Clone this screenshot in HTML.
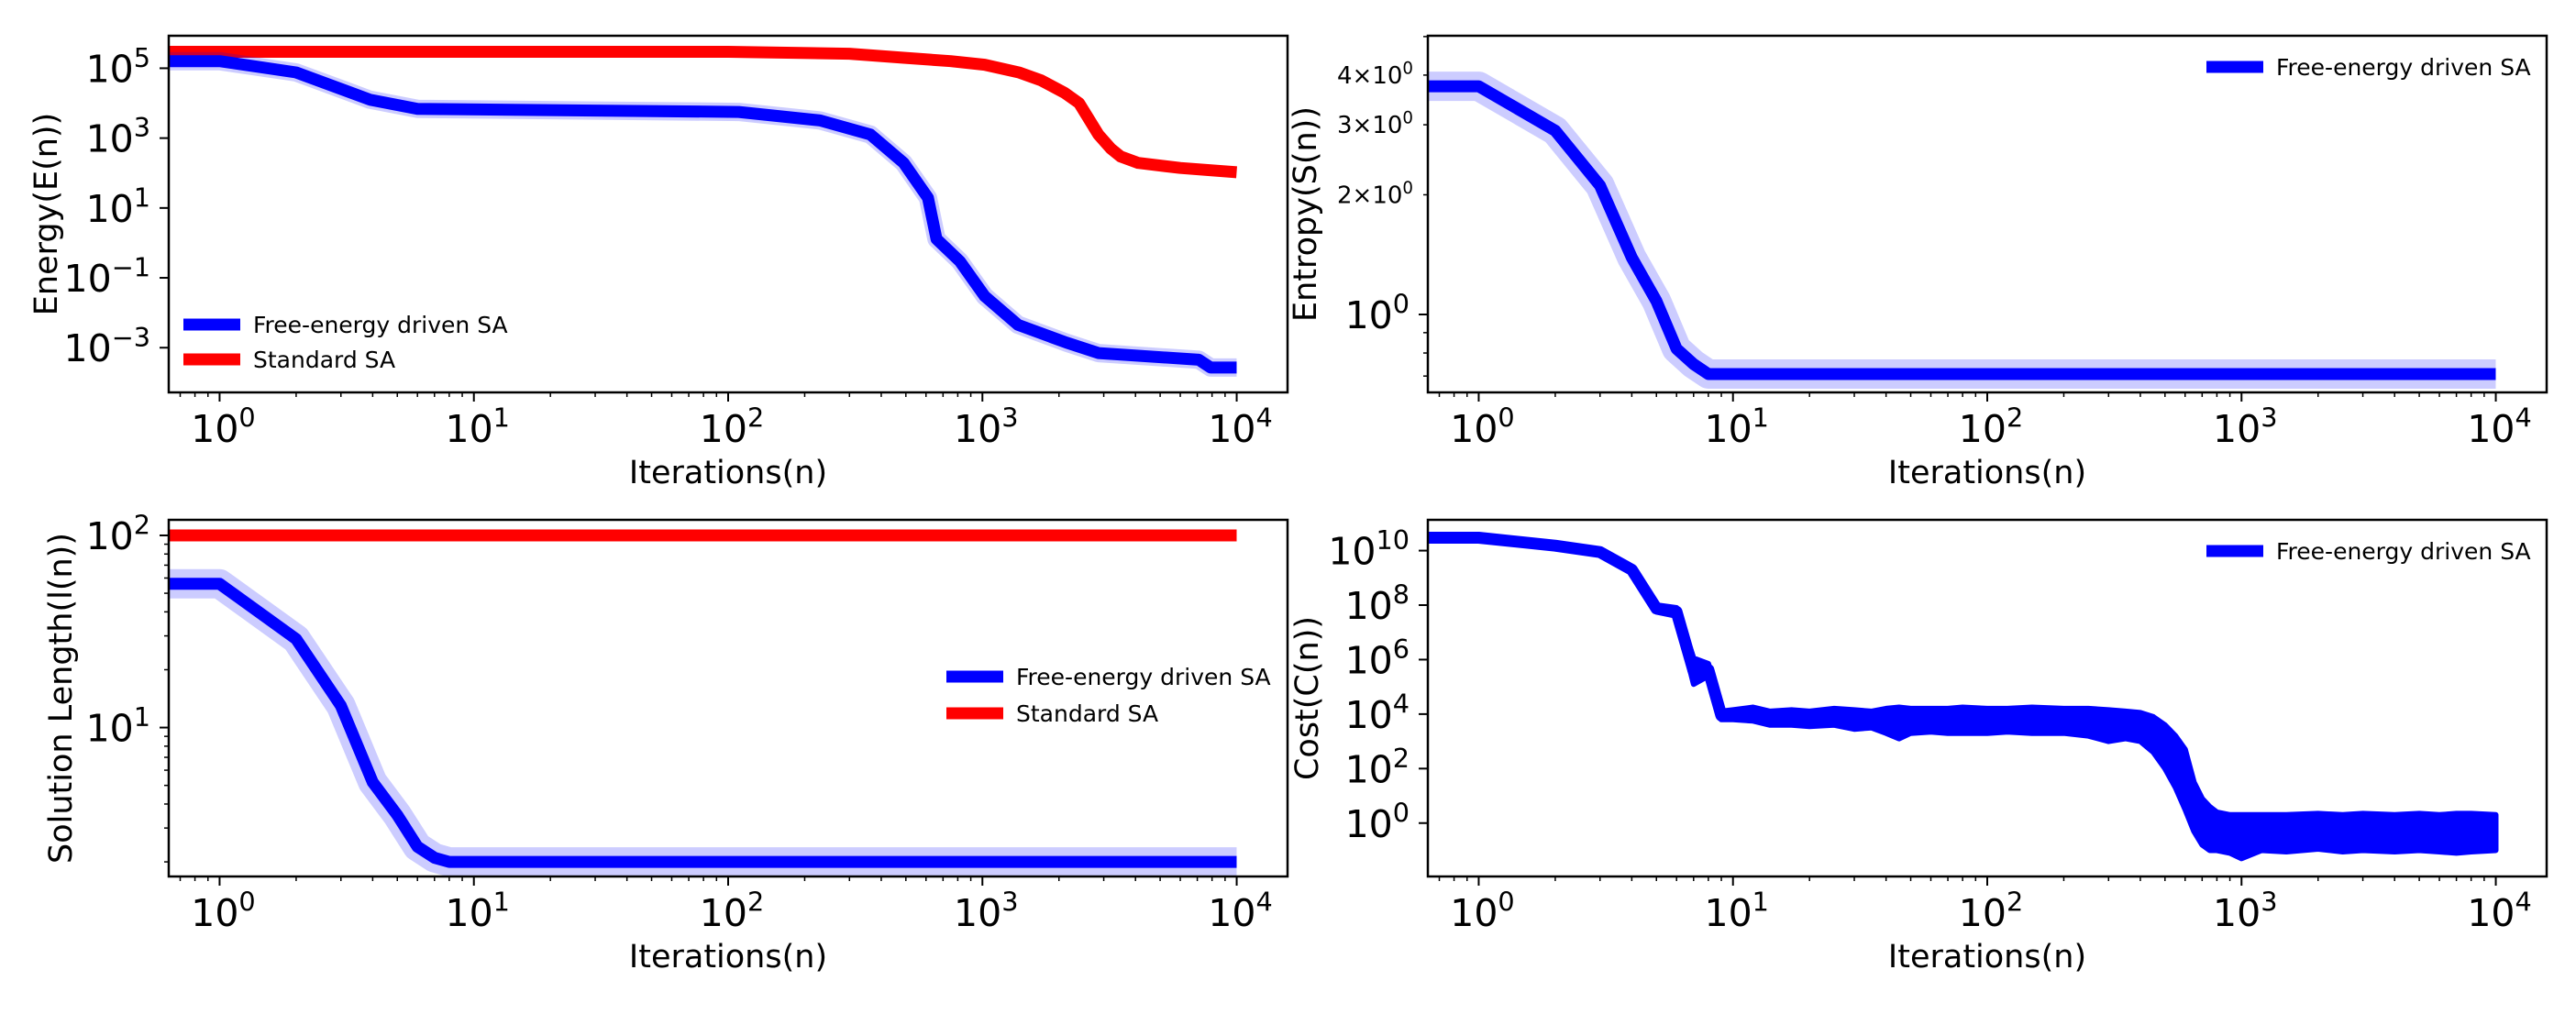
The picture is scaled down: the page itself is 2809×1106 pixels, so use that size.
<!DOCTYPE html>
<html><head><meta charset="utf-8"><style>
html,body{margin:0;padding:0;background:#fff}
svg{display:block}
text{font-family:"DejaVu Sans","Liberation Sans",sans-serif;fill:#000}
</style></head><body>
<svg id="fig" width="2809" height="1106" viewBox="0 0 2809 1106" xmlns="http://www.w3.org/2000/svg"></svg>
<script>
// ---------- data ----------
const energyFreeN = [0.631,1,2,3.9,6,110,230,363,490,611,660,815,1020,1380,2140,2860,7100,7900,10000];
const energyFreeVal = [1.6e5,1.6e5,7.6e4,1.26e4,6.9e3,5.6e3,3.2e3,1.26e3,195,19.5,1.29,0.3,0.03,0.0045,0.0014,0.0007,0.00045,0.00027,0.00027];
const energyStdN = [0.631,1,100,300,490,750,1020,1400,1700,2100,2400,2860,3200,3500,4100,6000,10000];
const energyStdVal = [2.95e5,2.95e5,2.95e5,2.6e5,2e5,1.6e5,1.26e5,7.5e4,4.5e4,2e4,1e4,1.26e3,500,295,195,140,105];

const entropyN = [0.631,1,2,3,4,5,6,7,8,10000];
const entropyVal = [3.75,3.75,2.9,2.11,1.39,1.08,0.82,0.75,0.708,0.708];

const lengthFreeN = [0.631,1,2,3,4,5,6,7,8,10000];
const lengthFreeVal = [56,56,28.9,13,5.2,3.5,2.4,2.1,2,2];
const lengthStdN = [0.631,10000];
const lengthStdVal = [100,100];

const costN = [0.631,1,2,3,4,5,6,7,8,9,10,12,14,17,20,25,30,35,40,45,50,60,70,80,100,120,150,200,250,300,350,400,450,500,550,600,650,700,750,800,900,1000,1200,1500,2000,2500,3000,4000,5000,6000,7000,8000,10000];
const costLogHi = [10.55,10.55,10.28,10.04,9.4,8.0,7.9,6.05,5.85,4.1,4.15, 4.25,4.1,4.15,4.1,4.2,4.15,4.1,4.2,4.25,4.2, 4.2,4.2,4.25,4.2,4.2,4.25,4.2,4.2,4.15,4.1, 4.05,3.9,3.6,3.2,2.7,1.5,0.9,0.6,0.4,0.3, 0.3,0.3,0.3,0.35,0.3,0.35,0.3,0.35,0.3,0.35, 0.35,0.3];
const costLogLo = [10.4,10.4,10.08,9.85,9.2,7.75,7.6,5.1,5.4,3.8,3.8, 3.75,3.6,3.6,3.55,3.6,3.45,3.5,3.3,3.1,3.3, 3.35,3.3,3.3,3.3,3.35,3.3,3.3,3.2,3.0,3.1, 3.0,2.6,2.0,1.3,0.5,-0.3,-0.8,-1.0,-1.0,-1.1, -1.3,-1.0,-1.05,-0.95,-1.05,-1.0,-1.05,-1.0,-1.05,-1.1, -1.05,-1.0];

const xTickExps = [0,1,2,3,4];
const energyTickExps = [5,3,1,-1,-3];
const costTickExps = [10,8,6,4,2,0];
const lengthTickExps = [2,1];
const entropyMinorLabels = [2,3,4];

// ---------- helpers ----------
const NS = "http://www.w3.org/2000/svg";
const svg = document.getElementById('fig');
function mk(tag, attrs, parent){
  const e = document.createElementNS(NS, tag);
  for (const k in attrs) e.setAttribute(k, attrs[k]);
  (parent||svg).appendChild(e);
  return e;
}
function makePanel(x0,y0,w,h,lyMin,lyMax){
  return {x0,y0,w,h,
    sx: n => x0 + (Math.log10(n)+0.2)/4.4*w,
    sxl: l => x0 + (l+0.2)/4.4*w,
    syl: l => y0 + h - (l-lyMin)/(lyMax-lyMin)*h,
    sy: v => y0 + h - (Math.log10(v)-lyMin)/(lyMax-lyMin)*h};
}
function pathFrom(P, ns, vs){
  let d='';
  for (let i=0;i<ns.length;i++) d += (i?'L':'M') + P.sx(ns[i]).toFixed(1)+','+P.sy(vs[i]).toFixed(1);
  return d;
}
function powLabel(g, x, y, base, exp, anchor, size){
  const t = mk('text',{x:x,y:y,'text-anchor':anchor,'font-size':size},g);
  t.appendChild(document.createTextNode(base));
  const s = mk('tspan',{dy:-size*0.4,'font-size':size*0.7},t);
  s.textContent = String(exp).replace('-','\u2212');
  return t;
}
function frame(P, name){
  const g = mk('g',{});
  
  
  const cp = mk('clipPath',{id:name+'-clip'},g);
  mk('rect',{x:P.x0,y:P.y0,width:P.w,height:P.h},cp);
  const xa = mk('g',{},g);
  
  
  const yb = P.y0+P.h;
  for (let d=-1; d<=4; d++){
    for (let m=1;m<10;m++){
      const l = d+Math.log10(m);
      if (l < -0.2 || l > 4.2) continue;
      const x = P.sxl(l);
      mk('line',{x1:x,x2:x,y1:yb,y2:yb+(m===1?10:5),stroke:'#000','stroke-width':m===1?2:1.5},xa);
    }
  }
  xTickExps.forEach(e=>{
    const t = powLabel(xa, P.sxl(e)+4, yb+54, '10', e, 'middle', 41);
    
    
  });
  const xl = mk('text',{x:P.x0+P.w/2,y:yb+99,'text-anchor':'middle','font-size':35},xa);
  xl.textContent = 'Iterations(n)';
  
  
  g.plot = mk('g',{'clip-path':'url(#'+name+'-clip)'},g);
  return g;
}
function border(P,g){
  mk('rect',{x:P.x0,y:P.y0,width:P.w,height:P.h,fill:'none',stroke:'#000','stroke-width':2.5},g);
}
function yTitle(g, x, P, txt){
  const cy = P.y0+P.h/2;
  const t = mk('text',{x:x,y:cy,'text-anchor':'middle','font-size':35,transform:'rotate(-90 '+x+' '+cy+')','dominant-baseline':'middle'},g);
  t.textContent = txt;
  
  
}
function legendEntry(g,x,y,color,label){
  const e = mk('g',{},g);
  
  
  mk('line',{x1:x,x2:x+62,y1:y,y2:y,stroke:color,'stroke-width':13},e);
  const t = mk('text',{x:x+76,y:y+9,'font-size':25},e);
  t.textContent = label;
}
function series(g, P, ns, vs, color, name, band){
  if (band){
    const b = mk('path',{d:pathFrom(P,ns,vs),fill:'none',stroke:color,'stroke-opacity':0.2,'stroke-width':band,'stroke-linejoin':'round'},g);
    
    
  }
  const p = mk('path',{d:pathFrom(P,ns,vs),fill:'none',stroke:color,'stroke-width':13,'stroke-linejoin':'round'},g);
  
  
}

// ---------- panel 1: energy ----------
{
  const P = makePanel(184,39,1220,389,-4.28,5.93);
  const g = frame(P,'energy-panel');
  energyTickExps.forEach(e=>{
    const y=P.syl(e);
    mk('line',{x1:P.x0-10,x2:P.x0,y1:y,y2:y,stroke:'#000','stroke-width':2},g);
    const t = powLabel(g, P.x0-20, y+15, '10', e, 'end', 41);
    
    
  });
  series(g.plot,P,energyStdN,energyStdVal,'#ff0000','standard-sa-line',0);
  series(g.plot,P,energyFreeN,energyFreeVal,'#0000ff','free-energy-sa-line',20);
  border(P,g);
  yTitle(g,52,P,'Energy(E(n))');
  const lg = mk('g',{},g);
  
  
  legendEntry(lg,200,354,'#0000ff','Free-energy driven SA');
  legendEntry(lg,200,392,'#ff0000','Standard SA');
}
// ---------- panel 2: entropy ----------
{
  const P = makePanel(1557,39,1220,389,-0.196,0.701);
  const g = frame(P,'entropy-panel');
  for (let m=6;m<=9;m++){ const y=P.syl(Math.log10(m/10)); if(y<=P.y0+P.h) mk('line',{x1:P.x0-5,x2:P.x0,y1:y,y2:y,stroke:'#000','stroke-width':1.5},g); }
  for (let m=2;m<=5;m++){ const y=P.syl(Math.log10(m)); mk('line',{x1:P.x0-5,x2:P.x0,y1:y,y2:y,stroke:'#000','stroke-width':1.5},g); }
  const y1=P.syl(0);
  mk('line',{x1:P.x0-10,x2:P.x0,y1:y1,y2:y1,stroke:'#000','stroke-width':2},g);
  powLabel(g,P.x0-20,y1+15,'10',0,'end',41);
  entropyMinorLabels.forEach(m=>{
    const y=P.syl(Math.log10(m));
    const t = powLabel(g,P.x0-16,y+9,m+'\u00d710',0,'end',26);
    
    
  });
  series(g.plot,P,entropyN,entropyVal,'#0000ff','free-energy-sa-line',32);
  border(P,g);
  yTitle(g,1425,P,'Entropy(S(n))');
  const lg = mk('g',{},g);
  
  
  legendEntry(lg,2406,73,'#0000ff','Free-energy driven SA');
}
// ---------- panel 3: length ----------
{
  const P = makePanel(184,567,1220,389,0.225,2.081);
  const g = frame(P,'length-panel');
  for (let d=0; d<=2; d++) for (let m=1;m<10;m++){
    const l=d+Math.log10(m); if(l<0.225||l>2.081) continue;
    const y=P.syl(l);
    mk('line',{x1:P.x0-(m===1?10:5),x2:P.x0,y1:y,y2:y,stroke:'#000','stroke-width':m===1?2:1.5},g);
  }
  lengthTickExps.forEach(e=>{
    const t = powLabel(g,P.x0-20,P.syl(e)+15,'10',e,'end',41);
    
    
  });
  series(g.plot,P,lengthStdN,lengthStdVal,'#ff0000','standard-sa-line',0);
  series(g.plot,P,lengthFreeN,lengthFreeVal,'#0000ff','free-energy-sa-line',32);
  border(P,g);
  yTitle(g,68,P,'Solution Length(l(n))');
  const lg = mk('g',{},g);
  
  
  legendEntry(lg,1032,738,'#0000ff','Free-energy driven SA');
  legendEntry(lg,1032,778,'#ff0000','Standard SA');
}
// ---------- panel 4: cost ----------
{
  const P = makePanel(1557,567,1220,389,-1.96,11.13);
  const g = frame(P,'cost-panel');
  costTickExps.forEach(e=>{
    const y=P.syl(e);
    mk('line',{x1:P.x0-10,x2:P.x0,y1:y,y2:y,stroke:'#000','stroke-width':2},g);
    const t = powLabel(g,P.x0-20,y+15,'10',e,'end',41);
    
    
  });
  let d='';
  for (let i=0;i<costN.length;i++) d += (i?'L':'M')+P.sx(costN[i]).toFixed(1)+','+P.syl(costLogHi[i]).toFixed(1);
  for (let i=costN.length-1;i>=0;i--) d += 'L'+P.sx(costN[i]).toFixed(1)+','+P.syl(costLogLo[i]).toFixed(1);
  d+='Z';
  const band = mk('path',{d:d,fill:'#0000ff',stroke:'#0000ff','stroke-width':6,'stroke-linejoin':'round'},g.plot);
  
  
  let m='';
  for (let i=0;i<costN.length;i++) m += (i?'L':'M')+P.sx(costN[i]).toFixed(1)+','+P.syl((costLogHi[i]+costLogLo[i])/2).toFixed(1);
  const ln = mk('path',{d:m,fill:'none',stroke:'#0000ff','stroke-width':13,'stroke-linejoin':'round'},g.plot);
  
  
  border(P,g);
  yTitle(g,1427,P,'Cost(C(n))');
  const lg = mk('g',{},g);
  
  
  legendEntry(lg,2406,601,'#0000ff','Free-energy driven SA');
}
</script>
</body></html>
